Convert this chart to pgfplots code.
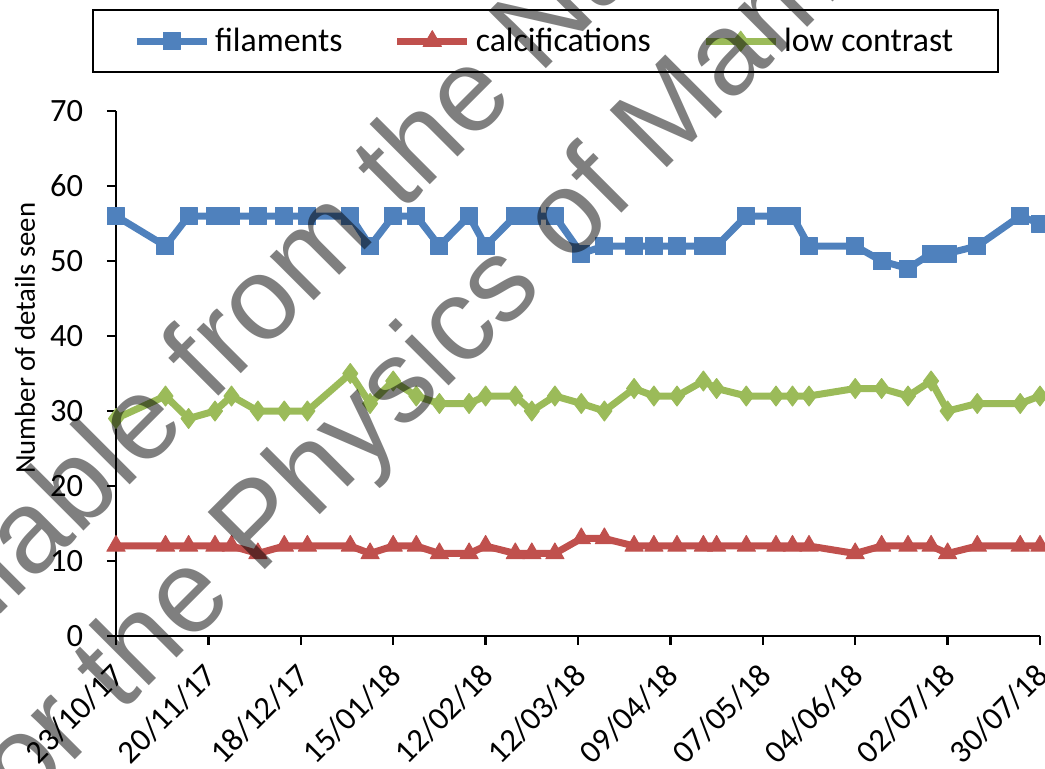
\documentclass[border=0pt]{standalone}
\usepackage{fontspec}
\setmainfont{Carlito}
\newfontfamily\wmfont{Liberation Sans}
\usepackage{pgfplots}
\usepackage{pgfplotstable}
\pgfplotsset{compat=1.18}
\definecolor{xlblue}{HTML}{4F81BD}
\definecolor{xlred}{HTML}{C0504D}
\definecolor{xlgreen}{HTML}{9BBB59}

% days after 23/10/17
\pgfplotstableread{
day fil cal low
0   56 12 29
15  52 12 32
22  56 12 29
30  56 12 30
35  56 12 32
43  56 11 30
51  56 12 30
58  56 12 30
71  56 12 35
77  52 11 31
84  56 12 34
91  56 12 32
98  52 11 31
107 56 11 31
112 52 12 32
121 56 11 32
126 56 11 30
133 56 11 32
141 51 13 31
148 52 13 30
157 52 12 33
163 52 12 32
170 52 12 32
178 52 12 34
182 52 12 33
191 56 12 32
200 56 12 32
205 56 12 32
210 52 12 32
224 52 11 33
232 50 12 33
240 49 12 32
247 51 12 34
252 51 11 30
261 52 12 31
274 56 12 31
280 55 12 32
}\details

\begin{document}
\begin{tikzpicture}
\begin{axis}[
  at={(0,0)}, anchor=south west,
  scale only axis, width=369.6pt, height=210pt,
  xmin=0, xmax=280, ymin=0, ymax=70,
  axis lines=left, axis line style={-, line width=1pt},
  tick align=outside, major tick length=3.6pt,
  every tick/.style={black, line width=1pt},
  xtick={0,28,...,280},
  xticklabels={23/10/17,20/11/17,18/12/17,15/01/18,12/02/18,12/03/18,09/04/18,07/05/18,04/06/18,02/07/18,30/07/18},
  ytick={0,10,...,70},
  /pgf/number format/assume math mode=true,
  tick label style={font=\fontsize{13}{15}\selectfont},
  xticklabel style={xshift=3.5pt, yshift=-7.5pt, rotate=45, anchor=east},
  yticklabel style={xshift=-6pt},
  ylabel={Number of details seen},
  ylabel style={at={(axis description cs:-0.0985,0.567)}, anchor=center, font=\fontsize{11.5}{13}\selectfont},
  legend columns=3,
  legend style={at={(axis description cs:0.465,1.133)}, anchor=center,
    draw=black, line width=0.8pt, font=\fontsize{13.5}{15}\selectfont,
    inner xsep=16pt, inner ysep=5pt,
    /tikz/every even column/.append style={column sep=18.5pt}},
  legend image code/.code={\draw[mark repeat=2, mark phase=2] plot coordinates {(0pt,0pt) (14pt,0pt) (28pt,0pt)};},
]
\addplot[color=xlblue, line width=2.8pt, line join=round, mark=square*, mark size=3.4pt, mark options={line width=0.4pt}] table[x=day, y=fil] {\details};
\addplot[color=xlred, line width=2.8pt, line join=round, mark=triangle*, mark size=4.2pt, mark options={line width=0.4pt}] table[x=day, y=cal] {\details};
\addplot[color=xlgreen, line width=2.8pt, line join=round, mark=diamond*, mark size=4pt, mark options={line width=0.4pt}] table[x=day, y=low] {\details};
\legend{filaments, calcifications, low contrast}
\end{axis}
% watermark over the chart
\node[font=\wmfont\fontsize{47}{47}\selectfont, text=black, text opacity=0.5, rotate=45, anchor=base west, inner sep=0pt] at (-105.2pt,-50.4pt) {Available from the National Coordinating Centre};
\node[font=\wmfont\fontsize{47}{47}\selectfont, text=black, text opacity=0.5, rotate=45, anchor=base west, inner sep=0pt] at (-46.4pt,-79.6pt) {for the Physics of Mammography};
\pgfresetboundingbox
\path (-46.4pt,-53.2pt) rectangle (371.6pt,254.4pt);
\end{tikzpicture}
\end{document}
